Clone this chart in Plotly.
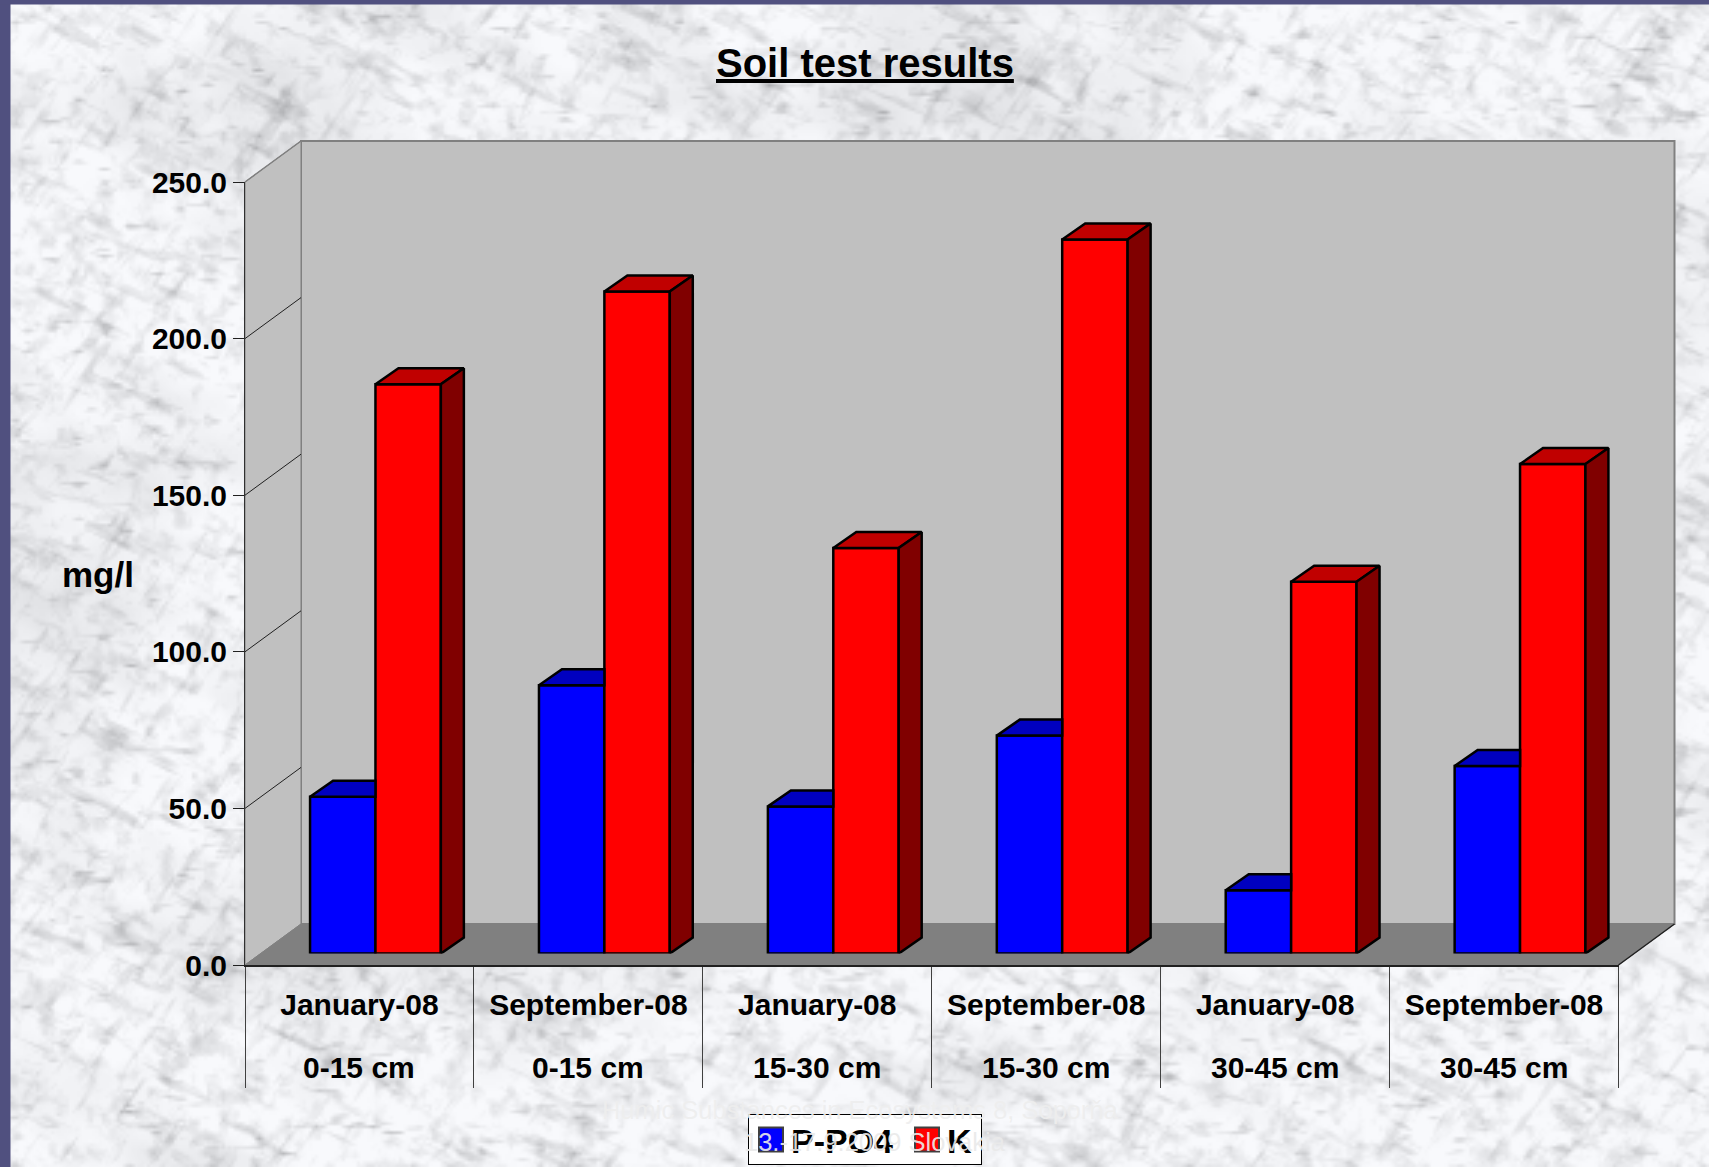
import base64, struct, zlib
import numpy as np
import plotly.graph_objects as go

# ---- data ----
months = ["January-08", "September-08", "January-08", "September-08", "January-08", "September-08"]
depths = ["0-15 cm", "0-15 cm", "15-30 cm", "15-30 cm", "30-45 cm", "30-45 cm"]
p_po4 = [50.1, 85.7, 47.0, 69.6, 20.2, 59.9]
k_vals = [181.8, 211.4, 129.5, 228.0, 118.7, 156.3]
y_ticks = [0, 50, 100, 150, 200, 250]

# ---- page geometry (pixels) ----
W, H = 1709, 1167
L, R, T, B = 245.0, 1618.5, 182.0, 965.0      # front plane
WALL_DX, WALL_DY = 56.0, 41.0                 # depth of the chart box
BAR_DX, BAR_DY = 16.0, 11.4                   # where the bar row sits in the box
FACE_DX, FACE_DY = 23.0, 16.0                 # depth of a bar
X_UNIT = (R - L) / 6.0
Y_UNIT = (B - T) / 250.0


def dom_x(off):
    return [(L + off) / W, (R + off) / W]


def dom_y(off):
    return [1 - (B - off) / H, 1 - (T - off) / H]


def px(cat, dx=0.0):
    return (L + cat * X_UNIT + dx) / W


def py(val, dy=0.0):
    return 1 - (B - val * Y_UNIT - dy) / H


# ---- marble backdrop as a small PNG (hash based, upscaled by the browser) ----
def hash2(ix, iy, s):
    v = np.sin(ix * 12.9898 + iy * 78.233 + s * 37.719) * 43758.5453
    return v - np.floor(v)


def vnoise(x, y, s):
    ix, iy = np.floor(x), np.floor(y)
    fx, fy = x - ix, y - iy
    fx, fy = fx * fx * (3 - 2 * fx), fy * fy * (3 - 2 * fy)
    a = hash2(ix, iy, s)
    b = hash2(ix + 1, iy, s)
    c = hash2(ix, iy + 1, s)
    d = hash2(ix + 1, iy + 1, s)
    return (a * (1 - fx) + b * fx) * (1 - fy) + (c * (1 - fx) + d * fx) * fy


def fbm(x, y, s, oct=4):
    tot, amp, norm = 0, 1.0, 0
    for i in range(oct):
        tot = tot + amp * vnoise(x, y, s + i)
        norm += amp
        amp *= 0.6
        x, y = x * 2.03, y * 2.03
    return tot / norm


STEP = 3
TW, TH = W // STEP + 1, H // STEP + 1
yy, xx = np.mgrid[0:TH, 0:TW].astype(float)
xx *= STEP
yy *= STEP
ang = np.radians(-25)
u = xx * np.cos(ang) - yy * np.sin(ang)
v = xx * np.sin(ang) + yy * np.cos(ang)
ang2 = np.radians(55)
u2 = xx * np.cos(ang2) - yy * np.sin(ang2)
v2 = xx * np.sin(ang2) + yy * np.cos(ang2)
broad = fbm(u / 170, v / 110, 1)
streak = fbm(u / 46, v / 13, 3, 3)
streak2 = fbm(u2 / 46, v2 / 11, 6, 3)
streak3 = fbm(xx / 26, yy / 7, 9, 2)
blot = fbm(xx / 15, yy / 15, 12, 3)
g = (250 - 55 * np.clip(broad - 0.45, 0, 1)
     - 115 * np.clip(streak - 0.58, 0, 1)
     - 90 * np.clip(streak2 - 0.62, 0, 1)
     - 170 * np.clip(streak3 - 0.72, 0, 1)
     - 70 * np.clip(blot - 0.5, 0, 1))
img = np.stack([g - 2, g - 1, g + 2], axis=-1)
img = np.clip(img, 0, 255).astype(np.uint8)


def png_uri(a):
    h, w, _ = a.shape
    raw = b"".join(b"\x00" + a[i].tobytes() for i in range(h))

    def chunk(t, d):
        return struct.pack(">I", len(d)) + t + d + struct.pack(">I", zlib.crc32(t + d) & 0xffffffff)

    data = (b"\x89PNG\r\n\x1a\n" + chunk(b"IHDR", struct.pack(">IIBBBBB", w, h, 8, 2, 0, 0, 0))
            + chunk(b"IDAT", zlib.compress(raw, 9)) + chunk(b"IEND", b""))
    return "data:image/png;base64," + base64.b64encode(data).decode()


# ---- bars and their 3D faces on the bar-row axes ----
n = len(months)
centers = [i + 0.5 for i in range(n)]
BAR_W = 60.0 * 1.09 / X_UNIT
fx, fy = FACE_DX / X_UNIT, FACE_DY / Y_UNIT


def top_face(x0, x1, val, clip_right=False):
    xr = x1 if clip_right else x1 + fx
    return [x0, x0 + fx, xr, x1, x0, None], [val, val + fy, val + fy, val, val, None]


def side_face(x1, val):
    return [x1, x1 + fx, x1 + fx, x1, x1, None], [0, fy, val + fy, val, 0, None]


def faces(builder):
    xs, ys = [], []
    for item in builder:
        xs += item[0]
        ys += item[1]
    return xs, ys


blue_top = faces(top_face(c - BAR_W, c, p, True) for c, p in zip(centers, p_po4))
red_top = faces(top_face(c, c + BAR_W, q) for c, q in zip(centers, k_vals))
red_side = faces(side_face(c + BAR_W, q) for c, q in zip(centers, k_vals))

fig = go.Figure()
fig.add_trace(go.Bar(name="P-PO4", x=centers, y=p_po4, xaxis="x3", yaxis="y3",
                     marker=dict(color="#0000ff", line=dict(color="black", width=2.5))))
fig.add_trace(go.Bar(name="K", x=centers, y=k_vals, xaxis="x3", yaxis="y3",
                     marker=dict(color="#ff0000", line=dict(color="black", width=2.5))))
for (xs, ys), col in ((blue_top, "#0000c0"), (red_top, "#c00000"), (red_side, "#800000")):
    fig.add_trace(go.Scatter(x=xs, y=ys, xaxis="x3", yaxis="y3", mode="lines", fill="toself",
                             fillcolor=col, line=dict(color="black", width=2.5),
                             showlegend=False, hoverinfo="skip"))

# ---- box: back wall, left wall, floor, connectors ----
shapes = [
    dict(type="rect", xref="paper", yref="paper", layer="below", x0=0, x1=10.5 / W, y0=0, y1=1,
         fillcolor="#50507f", line=dict(width=0)),
    dict(type="rect", xref="paper", yref="paper", layer="below", x0=0, x1=1, y0=1 - 4.5 / H, y1=1,
         fillcolor="#50507f", line=dict(width=0)),
]


def poly(points, fill, line_color=None, lw=1):
    path = "M" + " L".join(f"{a:.6f},{b:.6f}" for a, b in points) + " Z"
    shapes.append(dict(type="path", path=path, xref="paper", yref="paper", layer="below",
                       fillcolor=fill, line=dict(color=line_color or fill, width=lw)))


poly([(px(0, WALL_DX), py(0, WALL_DY)), (px(6, WALL_DX), py(0, WALL_DY)),
      (px(6, WALL_DX), py(250, WALL_DY)), (px(0, WALL_DX), py(250, WALL_DY))],
     "#c0c0c0", "#808080", 2)
poly([(px(0), py(0)), (px(0, WALL_DX), py(0, WALL_DY)),
      (px(0, WALL_DX), py(250, WALL_DY)), (px(0), py(250))], "#c0c0c0", "#808080", 1)
poly([(px(0), py(0)), (px(0, WALL_DX), py(0, WALL_DY)),
      (px(6, WALL_DX), py(0, WALL_DY)), (px(6), py(0))], "#808080")
for t in y_ticks[1:]:
    shapes.append(dict(type="line", xref="paper", yref="paper", layer="below",
                       x0=px(0), y0=py(t), x1=px(0, WALL_DX), y1=py(t, WALL_DY),
                       line=dict(color="#808080" if t == 250 else "#202020", width=1.5 if t == 250 else 1)))
shapes.append(dict(type="line", xref="paper", yref="paper", layer="below",
                   x0=px(6), y0=py(0), x1=px(6, WALL_DX), y1=py(0, WALL_DY),
                   line=dict(color="#202020", width=1.5)))

FONT = "Liberation Sans"
C = dict(xanchor="center", yanchor="middle", showarrow=False, xref="paper", yref="paper")
annos = [dict(C, text=d, x=c, xref="x2", y=1 - 1067 / H, font=dict(family=FONT, size=30, color="black"))
         for c, d in zip(centers, [f"<b>{d}</b>" for d in depths])]
annos.append(dict(C, text="<b>mg/l</b>", x=98 / W, y=1 - 575 / H, font=dict(family=FONT, size=35, color="black")))
annos.append(dict(C, text="<b><u>Soil test results</u></b>", x=865 / W, y=1 - 63 / H,
                  font=dict(family=FONT, size=40, color="black")))
annos.append(dict(C, text="Humic Substances in Ecosystems 8, Soporňa", x=860 / W, y=1 - 1110 / H,
                  font=dict(family=FONT, size=25.5, color="rgba(238,238,238,0.92)")))
annos.append(dict(C, text="13.-17.9.2009 Slovakia", x=875 / W, y=1 - 1142 / H,
                  font=dict(family=FONT, size=25.5, color="rgba(234,234,234,0.92)")))

fig.update_layout(
    width=W, height=H, autosize=False,
    margin=dict(l=0, r=0, t=0, b=0, pad=0, autoexpand=False),
    paper_bgcolor="#e6e8ec", plot_bgcolor="rgba(0,0,0,0)",
    barmode="group", bargap=1 - 2 * BAR_W, bargroupgap=0,
    images=[dict(source=png_uri(img), xref="paper", yref="paper", x=0, y=1, sizex=1, sizey=1,
                 xanchor="left", yanchor="top", sizing="stretch", layer="below")],
    shapes=shapes, annotations=annos,
    # back wall
    xaxis=dict(domain=dom_x(WALL_DX), range=[0, 6], anchor="y", visible=False),
    yaxis=dict(domain=dom_y(WALL_DY), range=[0, 250], anchor="x", showgrid=True, gridcolor="#303030",
               gridwidth=1, dtick=50, zeroline=False, showticklabels=False, ticks="", showline=False),
    # front plane: labelled axes
    xaxis2=dict(domain=dom_x(0), range=[0, 6], anchor="y2", showgrid=False, zeroline=False,
                tickmode="array", tickvals=centers,
                ticktext=[f"<b>{m}</b>" for m in months], ticks="", ticklabelstandoff=12,
                tickfont=dict(family=FONT, size=30, color="black"),
                showline=True, linecolor="#202020", linewidth=1.5,
                minor=dict(tickmode="array", tickvals=list(range(n + 1)), ticks="outside",
                           ticklen=121, tickwidth=1, tickcolor="#404040")),
    yaxis2=dict(domain=dom_y(0), range=[0, 250], anchor="x2", showgrid=False, zeroline=False,
                tickmode="array", tickvals=y_ticks, ticktext=[f"<b>{t:.1f}</b>" for t in y_ticks],
                ticks="outside", ticklen=11, tickwidth=1, tickcolor="#202020",
                tickfont=dict(family=FONT, size=30, color="black"),
                showline=True, linecolor="#303030", linewidth=1),
    # bar row
    xaxis3=dict(domain=dom_x(BAR_DX), range=[0, 6], anchor="y3", visible=False),
    yaxis3=dict(domain=dom_y(BAR_DY), range=[0, 250], anchor="x3", visible=False),
    showlegend=True,
    legend=dict(x=748 / W, y=1 - 1114 / H, xanchor="left", yanchor="top", orientation="h",
                bgcolor="white", bordercolor="black", borderwidth=1,
                font=dict(family=FONT, size=34, color="black", weight="bold"),
                itemclick=False, itemdoubleclick=False, traceorder="normal",
                entrywidthmode="pixels", entrywidth=111),
)

post = """
document.body.style.margin='0';document.body.style.overflow='hidden';
document.querySelectorAll('.legend .legendpoints path').forEach(function(p){
  var t=p.getAttribute('transform')||''; p.setAttribute('transform',t+' scale(2)');
  p.style.stroke='#404040'; p.style.strokeWidth='1px';
});
var bg=document.querySelector('.legend .bg');
if(bg){bg.setAttribute('width','233');bg.setAttribute('height','50');}
var sb=document.querySelector('.legend .scrollbox');
if(sb){sb.setAttribute('transform','translate(2,-4)');}
"""
fig.write_html("out.html", post_script=post, config=dict(displayModeBar=False))
